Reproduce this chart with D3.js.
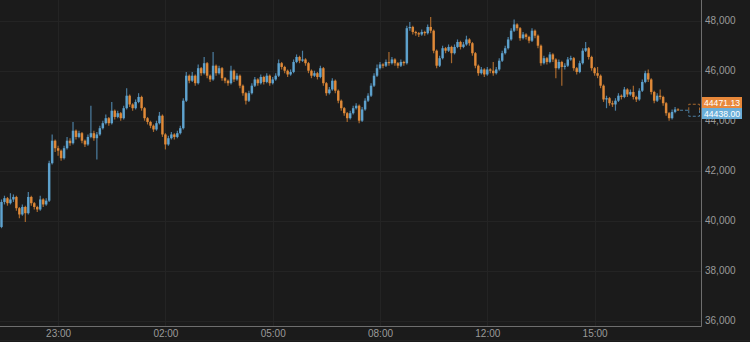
<!DOCTYPE html>
<html>
<head>
<meta charset="utf-8">
<script src="https://cdn.jsdelivr.net/npm/d3@7"></script>
<style>
  html, body { margin: 0; padding: 0; background: #1b1b1b; }
  #chart { width: 750px; height: 342px; }
  text { font-family: "Liberation Sans", Arial, Helvetica, sans-serif; }
</style>
</head>
<body>
<div id="chart"></div>
<script>
"use strict";

// first candle open, then each candle opens at the previous close
const firstOpen = 39750;

const closes = [
  40750, 40900, 40700, 40850, 40950, 40500, 40250, 40550, 40300, 40950,
  40700, 40550, 40450, 40850, 40650, 40800, 42300, 43200, 42900, 42800,
  42500, 42900, 43200, 43100, 43600, 43350, 43500, 43200, 43050, 43350,
  43500, 43300, 43450, 43700, 43900, 44100, 43900, 44400, 44150, 44300,
  44100, 44500, 45000, 44650, 44500, 44750, 44950, 44500, 44100, 43950,
  43800, 43650, 43900, 44200, 43450, 43050, 43300, 43450, 43350, 43500,
  43700, 44800, 45800, 45600, 45800, 45500, 46100, 45900, 46300, 45800,
  45650, 46200, 45900, 46100, 45700, 45600, 45500, 46000, 45650, 45800,
  45400, 45100, 44800, 45100, 45400, 45650, 45500, 45750, 45550, 45800,
  45500, 45650, 45800, 46300, 46150, 46000, 45850, 45950, 46350, 46550,
  46400, 46450, 46300, 46000, 45800, 45900, 45750, 46100, 45500, 45100,
  45250, 45600, 45200, 44800, 44500, 44300, 44100, 44300, 44500, 44600,
  44000, 44450, 44800, 45000, 45400, 45800, 46100, 46250, 46200, 46350,
  46300, 46450, 46300, 46200, 46350, 46300, 47700, 47750, 47550, 47500,
  47450, 47550, 47500, 47750, 47600, 46800, 46200, 46500, 46900, 46800,
  46950, 46700, 46950, 47150, 46950, 47050, 47250, 47100, 46700, 46200,
  45900, 46050, 45850, 46050, 46000, 45900, 46050, 46400, 46700, 46900,
  47250, 47600, 47850, 47700, 47300, 47450, 47350, 47200, 47600, 47400,
  47000, 46300, 46500, 46350, 46650, 46450, 46100, 46350, 46150, 46200,
  46450, 46500, 46100, 45950, 46300, 46800, 46900, 46550, 46100, 45900,
  45800, 45400, 44850, 44900, 44700, 44650, 44800, 45000, 44950, 45250,
  45050, 45150, 44950, 44850, 45200, 45550, 45900, 45650, 45150, 44800,
  45000, 44950, 44700, 44300, 44100, 44350, 44450, 44438
];

const highs = [
  40850, 41000, 40950, 41100, 41050, 41000, 40550, 40650, 40600, 41150,
  41000, 40750, 40600, 41000, 40900, 40900, 42400, 43450, 43250, 43000,
  42850, 43000, 43350, 43300, 43950, 43650, 43600, 43550, 43250, 43450,
  44600, 43600, 43550, 43800, 44000, 44250, 44150, 44750, 44450, 44400,
  44350, 44600, 45300, 45050, 44700, 44850, 45100, 45000, 44550, 44150,
  44000, 43850, 44000, 44350, 44250, 43500, 43400, 43550, 43500, 43600,
  43800, 44900, 45950, 45850, 45950, 45850, 46250, 46150, 46550, 46350,
  45850, 46750, 46250, 46200, 46150, 45750, 45650, 46200, 46050, 45900,
  45850, 45450, 45150, 45200, 45500, 45750, 45700, 45850, 45800, 45900,
  45850, 45750, 45900, 46450, 46350, 46200, 46050, 46050, 46450, 46650,
  46600, 46800, 46500, 46350, 46050, 46000, 45950, 46200, 46150, 45550,
  45350, 45700, 45650, 45250, 44850, 44550, 44350, 44400, 44600, 44700,
  44650, 44550, 44900, 45100, 45500, 45900, 46250, 46350, 46300, 46450,
  46750, 46550, 46500, 46350, 46450, 46400, 47800, 47950, 47800, 47600,
  47550, 47650, 47600, 47850, 48150, 47650, 46850, 46600, 47000, 46950,
  47050, 47000, 47050, 47250, 47200, 47150, 47400, 47300, 47150, 46750,
  46250, 46150, 46100, 46150, 46100, 46350, 46150, 46500, 46800, 47000,
  47350, 47700, 48050, 47900, 47750, 47550, 47500, 47400, 47700, 47650,
  47450, 47050, 46600, 46550, 46750, 46700, 46500, 46450, 46400, 46300,
  46550, 46600, 46550, 46150, 46400, 46900, 47150, 46950, 46600, 46150,
  46150, 45850, 45450, 45000, 44950, 44800, 44900, 45100, 45050, 45350,
  45300, 45250, 45400, 45000, 45300, 45650, 46000, 46050, 45700, 45200,
  45100, 45250, 45000, 44750, 44350, 44450, 44550, 44500
];

const lows = [
  39700, 40650, 40600, 40650, 40750, 40400, 40100, 40200, 39950, 40250,
  40600, 40450, 40350, 40400, 40550, 40600, 40750, 42250, 42750, 42600,
  42400, 42450, 42850, 43000, 43050, 43250, 43300, 43100, 42950, 43000,
  43300, 43200, 42450, 43400, 43650, 43850, 43800, 43850, 44050, 44100,
  44000, 44050, 44450, 44550, 44400, 44450, 44700, 44400, 44000, 43850,
  43700, 43550, 43600, 43850, 43350, 42850, 43000, 43250, 43250, 43300,
  43450, 43650, 44750, 45500, 45550, 45400, 45450, 45800, 45850, 45700,
  45550, 45600, 45800, 45850, 45600, 45500, 45400, 45450, 45550, 45600,
  45300, 45000, 44650, 44750, 45050, 45350, 45400, 45450, 45450, 45500,
  45400, 45450, 45600, 45750, 46050, 45900, 45750, 45800, 45900, 46300,
  46300, 46350, 46200, 45900, 45700, 45750, 45650, 45700, 45400, 45000,
  45050, 45200, 45100, 44700, 44400, 44200, 43950, 44050, 44250, 44450,
  43900, 43950, 44400, 44750, 44950, 45350, 45750, 46050, 46100, 46150,
  46200, 46250, 46200, 46100, 46150, 46200, 46250, 47600, 47450, 47400,
  47350, 47400, 47400, 47450, 47500, 46700, 46100, 46150, 46450, 46700,
  46750, 46300, 46650, 46900, 46850, 46900, 47000, 47000, 46600, 46100,
  45800, 45850, 45750, 45800, 45900, 45800, 45850, 46000, 46350, 46650,
  46850, 47200, 47550, 47600, 47200, 47250, 47250, 47100, 47150, 47300,
  46900, 46200, 46250, 46250, 46300, 46350, 45700, 46050, 45400, 46050,
  46150, 46400, 46000, 45850, 45900, 46250, 46750, 46450, 46000, 45800,
  45700, 45300, 44750, 44500, 44600, 44550, 44400, 44750, 44850, 44900,
  44950, 45000, 44850, 44750, 44800, 45150, 45500, 45550, 45050, 44700,
  44750, 44850, 44600, 44200, 44000, 44050, 44300, 44400
];

// x axis labels and the candle they sit on
const tickLabels = ["23:00", "02:00", "05:00", "08:00", "12:00", "15:00"];
const tickIndex = [19, 55, 91, 127, 163, 199];

const yTicks = [36000, 38000, 40000, 42000, 44000, 46000, 48000];

// last prices shown on the axis
const askPrice = 44471.13;
const bidPrice = 44438.00;

const upColor = "#62a8d6", downColor = "#e88e3a";
const upWick = "#4c7fa2", downWick = "#a8692e";

const totalW = 750, totalH = 342;
const plotW = 701, plotH = 326;

const candles = closes.map((c, i) => ({
  i: i,
  open: i === 0 ? firstOpen : closes[i - 1],
  close: c,
  high: highs[i],
  low: lows[i]
}));

const svg = d3.select("#chart")
  .append("svg")
  .attr("width", totalW)
  .attr("height", totalH);

svg.append("rect")
  .attr("width", totalW)
  .attr("height", totalH)
  .attr("fill", "#1b1b1b");

const x = d3.scaleLinear()
  .domain([-0.5, 234.7])
  .range([0, plotW]);

const y = d3.scaleLinear()
  .domain([36000, 48000])
  .range([320.7, 20.7]);

// grid
svg.append("g")
  .selectAll("line")
  .data(yTicks)
  .join("line")
  .attr("x1", 0)
  .attr("x2", plotW)
  .attr("y1", d => Math.round(y(d)) + 0.5)
  .attr("y2", d => Math.round(y(d)) + 0.5)
  .attr("stroke", "#242424");

svg.append("g")
  .selectAll("line")
  .data(tickIndex)
  .join("line")
  .attr("x1", d => Math.round(x(d)) + 0.5)
  .attr("x2", d => Math.round(x(d)) + 0.5)
  .attr("y1", 0)
  .attr("y2", plotH)
  .attr("stroke", "#242424");

// candles
const cg = svg.append("g");

cg.selectAll("line.wick")
  .data(candles)
  .join("line")
  .attr("class", "wick")
  .attr("x1", d => x(d.i))
  .attr("x2", d => x(d.i))
  .attr("y1", d => y(d.high))
  .attr("y2", d => y(d.low))
  .attr("stroke", d => d.close >= d.open ? upWick : downWick)
  .attr("stroke-width", 1.2);

cg.selectAll("rect.body")
  .data(candles)
  .join("rect")
  .attr("class", "body")
  .attr("x", d => x(d.i) - 1.25)
  .attr("width", 2.5)
  .attr("y", d => y(Math.max(d.open, d.close)))
  .attr("height", d => Math.max(1, Math.abs(y(d.open) - y(d.close))))
  .attr("fill", d => d.close >= d.open ? upColor : downColor)
  .attr("opacity", 0.9);

// dashed placeholder for the next candle
const last = candles[candles.length - 1];
const ghostX0 = x(last.i + 3.6), ghostX1 = x(last.i + 7.2);
const ghostMid = y(bidPrice) + 0.5;

svg.append("line")
  .attr("x1", x(last.i) + 2)
  .attr("x2", ghostX0)
  .attr("y1", ghostMid)
  .attr("y2", ghostMid)
  .attr("stroke", upWick)
  .attr("stroke-dasharray", "3,2");

svg.append("path")
  .attr("d", `M${ghostX0},${ghostMid} V${ghostMid - 6} H${ghostX1} V${ghostMid}`)
  .attr("fill", "none")
  .attr("stroke", downWick)
  .attr("stroke-dasharray", "3,2");

svg.append("path")
  .attr("d", `M${ghostX0},${ghostMid} V${ghostMid + 6} H${ghostX1} V${ghostMid}`)
  .attr("fill", "none")
  .attr("stroke", upWick)
  .attr("stroke-dasharray", "3,2");

// frame
svg.append("line")
  .attr("x1", 0).attr("x2", plotW + 0.5)
  .attr("y1", plotH + 0.5).attr("y2", plotH + 0.5)
  .attr("stroke", "#6e6e6e");

svg.append("line")
  .attr("x1", plotW + 0.5).attr("x2", plotW + 0.5)
  .attr("y1", 0).attr("y2", plotH + 0.5)
  .attr("stroke", "#6e6e6e");

svg.append("line")
  .attr("x1", 0).attr("x2", totalW)
  .attr("y1", 340.5).attr("y2", 340.5)
  .attr("stroke", "#222");

// y axis labels (44,000 sits under the price boxes, as in the original)
const yAxis = svg.append("g")
  .attr("transform", `translate(${plotW},0)`)
  .call(d3.axisRight(y).tickValues(yTicks).tickSize(0).tickPadding(4).tickFormat(d3.format(",")));
yAxis.select(".domain").remove();
yAxis.selectAll("text")
  .attr("fill", "#9a9a9a")
  .attr("font-size", "10px")
  .attr("font-family", "'Liberation Sans', Arial, sans-serif");

// x axis labels
const xAxis = svg.append("g")
  .attr("transform", `translate(0,${plotH})`)
  .call(d3.axisBottom(x).tickValues(tickIndex).tickSize(0).tickPadding(4)
    .tickFormat((d, k) => tickLabels[k]));
xAxis.select(".domain").remove();
xAxis.selectAll("text")
  .attr("fill", "#9a9a9a")
  .attr("font-size", "10px")
  .attr("font-family", "'Liberation Sans', Arial, sans-serif");

// price boxes
const boxes = [
  {v: askPrice, color: "#e8883a", top: 97},
  {v: bidPrice, color: "#6aaed8", top: 108}
];

const bg = svg.append("g");
bg.selectAll("rect")
  .data(boxes)
  .join("rect")
  .attr("x", plotW + 1)
  .attr("y", d => d.top)
  .attr("width", 40)
  .attr("height", 11)
  .attr("fill", d => d.color);

bg.selectAll("text")
  .data(boxes)
  .join("text")
  .attr("x", plotW + 3)
  .attr("y", d => d.top + 9)
  .attr("fill", "#fff")
  .attr("font-size", "9.5px")
  .attr("textLength", 36)
  .attr("lengthAdjust", "spacingAndGlyphs")
  .text(d => d.v.toFixed(2));
</script>
</body>
</html>
